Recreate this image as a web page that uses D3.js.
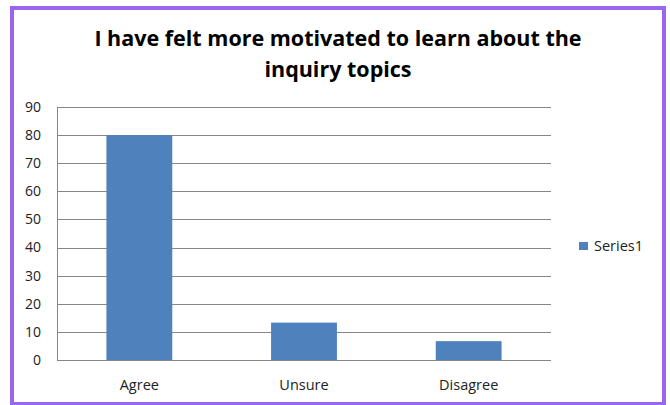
<!DOCTYPE html>
<html>
<head>
<meta charset="utf-8">
<script src="https://cdn.jsdelivr.net/npm/d3@7"></script>
<style>
  body { margin: 0; background: #fff; }
  text { font-family: "Open Sans", "Liberation Sans", sans-serif; }
</style>
</head>
<body>
<div id="chart"></div>
<script>
// data
var categories = ["Agree", "Unsure", "Disagree"];
var series1 = [80, 13.3, 6.7];
var yTicks = [0, 10, 20, 30, 40, 50, 60, 70, 80, 90];
var titleLines = ["I have felt more motivated to learn about the", "inquiry topics"];
var seriesName = "Series1";

var W = 670, H = 405;
var margin = {top: 107, right: 119, bottom: 45, left: 57};
var width = W - margin.left - margin.right,
    height = H - margin.top - margin.bottom;

var svg = d3.select("#chart").append("svg")
    .attr("width", W)
    .attr("height", H);

// purple frame
svg.append("rect")
    .attr("x", 12).attr("y", 8)
    .attr("width", 652).attr("height", 396)
    .attr("fill", "#fff")
    .attr("stroke", "#9966f2")
    .attr("stroke-width", 4);

// title
svg.append("text")
    .attr("text-anchor", "middle")
    .style("font-weight", "bold")
    .style("font-size", "21.5px")
    .attr("fill", "#000")
  .selectAll("tspan")
  .data(titleLines)
  .enter().append("tspan")
    .attr("x", 338)
    .attr("y", (d, i) => 46 + i * 31)
    .text(d => d);

var g = svg.append("g")
    .attr("transform", "translate(" + margin.left + "," + margin.top + ")");

var x = d3.scaleBand()
    .domain(categories)
    .range([0, width])
    .paddingInner(0.6)
    .paddingOuter(0.3);

var y = d3.scaleLinear()
    .domain([0, 90])
    .range([height, 0]);

// gridlines
g.append("g")
    .selectAll("line")
    .data(yTicks)
    .enter().append("line")
    .attr("x1", 0).attr("x2", width)
    .attr("y1", d => Math.round(y(d)) + 0.5)
    .attr("y2", d => Math.round(y(d)) + 0.5)
    .attr("stroke", "#878787")
    .attr("stroke-width", 1);

// y axis line
g.append("line")
    .attr("x1", 0.5).attr("x2", 0.5)
    .attr("y1", 0).attr("y2", height)
    .attr("stroke", "#878787");

// y tick labels
g.append("g")
    .selectAll("text")
    .data(yTicks)
    .enter().append("text")
    .attr("x", -16)
    .attr("y", d => y(d))
    .attr("dy", "0.35em")
    .attr("text-anchor", "end")
    .style("font-size", "14px")
    .attr("fill", "#222")
    .text(d => d);

// bars
g.append("g")
    .selectAll("rect")
    .data(series1)
    .enter().append("rect")
    .attr("x", (d, i) => x(categories[i]))
    .attr("y", d => y(d))
    .attr("width", x.bandwidth())
    .attr("height", d => height - y(d))
    .attr("fill", "#4f81bd");

// category labels
g.append("g")
    .selectAll("text")
    .data(categories)
    .enter().append("text")
    .attr("x", d => x(d) + x.bandwidth() / 2)
    .attr("y", height + 30)
    .attr("text-anchor", "middle")
    .style("font-size", "14.5px")
    .attr("fill", "#222")
    .text(d => d);

// legend
var legend = svg.append("g")
    .attr("transform", "translate(579,242)");
legend.append("rect")
    .attr("width", 9).attr("height", 8)
    .attr("fill", "#4f81bd");
legend.append("text")
    .attr("x", 15)
    .attr("y", 9)
    .style("font-size", "14.5px")
    .attr("fill", "#222")
    .text(seriesName);
</script>
</body>
</html>
